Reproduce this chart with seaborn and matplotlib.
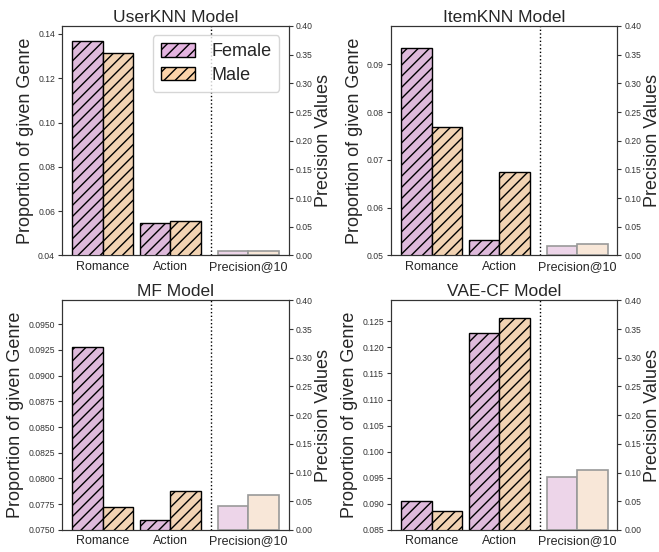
import matplotlib
matplotlib.use("Agg")
import matplotlib.pyplot as plt
import pandas as pd
import seaborn as sns
from matplotlib.patches import Patch
from matplotlib.ticker import MultipleLocator, FormatStrFormatter

# ---- data ----
models = ["UserKNN", "ItemKNN", "MF", "VAE-CF"]
genres = ["Romance", "Action"]
genders = ["Female", "Male"]

female_genre = {
    "UserKNN": [0.1370, 0.0548],
    "ItemKNN": [0.0934, 0.0532],
    "MF": [0.0928, 0.0760],
    "VAE-CF": [0.0905, 0.1228],
}
male_genre = {
    "UserKNN": [0.1316, 0.0557],
    "ItemKNN": [0.0769, 0.0675],
    "MF": [0.0772, 0.0788],
    "VAE-CF": [0.0887, 0.1256],
}
female_prec = {"UserKNN": 0.008, "ItemKNN": 0.016, "MF": 0.042, "VAE-CF": 0.092}
male_prec = {"UserKNN": 0.008, "ItemKNN": 0.020, "MF": 0.060, "VAE-CF": 0.104}

# left-axis limits, tick step and label format per model
ylims = {
    "UserKNN": (0.04, 0.1436),
    "ItemKNN": (0.05, 0.0980),
    "MF": (0.075, 0.0973),
    "VAE-CF": (0.085, 0.1290),
}
ysteps = {"UserKNN": 0.02, "ItemKNN": 0.01, "MF": 0.0025, "VAE-CF": 0.005}
yfmts = {"UserKNN": "%.2f", "ItemKNN": "%.2f", "MF": "%.4f", "VAE-CF": "%.3f"}

# ---- layout ----
genre_pos = [0, 1]
prec_pos = 2.15
sep_x = 1.6
xlim = (-0.6, 2.74)

col_genre = {"Female": "#e4b4e0", "Male": "#fcd3a9"}
col_prec = {"Female": "#f1d1ec", "Male": "#fee6d2"}

sns.set_style("ticks")
plt.rcParams["font.family"] = ["Liberation Sans", "DejaVu Sans"]

fig, axes = plt.subplots(2, 2, figsize=(6.59, 5.52), dpi=100)
fig.subplots_adjust(left=0.094, right=0.937, top=0.953, bottom=0.04,
                    wspace=0.452, hspace=0.196)

for ax, model in zip(axes.flat, models):
    # genre bars (left axis)
    rows = []
    for i, g in enumerate(genres):
        rows.append({"pos": genre_pos[i], "Gender": "Female", "value": female_genre[model][i]})
        rows.append({"pos": genre_pos[i], "Gender": "Male", "value": male_genre[model][i]})
    df_g = pd.DataFrame(rows)
    sns.barplot(data=df_g, x="pos", y="value", hue="Gender", hue_order=genders,
                palette=col_genre, native_scale=True, width=0.9, ax=ax,
                edgecolor="black", linewidth=1, hatch="///", legend=False,
                errorbar=None)

    # precision bars (right axis)
    ax2 = ax.twinx()
    df_p = pd.DataFrame({"pos": [prec_pos, prec_pos], "Gender": genders,
                         "value": [female_prec[model], male_prec[model]]})
    sns.barplot(data=df_p, x="pos", y="value", hue="Gender", hue_order=genders,
                palette=col_prec, native_scale=True, width=0.9, ax=ax2,
                edgecolor="#999999", linewidth=1.2, legend=False, errorbar=None)

    ax.axvline(sep_x, color="black", linestyle=":", linewidth=1)

    ax.set_ylim(*ylims[model])
    ax.yaxis.set_major_locator(MultipleLocator(ysteps[model]))
    ax.yaxis.set_major_formatter(FormatStrFormatter(yfmts[model]))
    ax2.set_ylim(0, 0.4)
    ax2.yaxis.set_major_locator(MultipleLocator(0.05))
    ax2.yaxis.set_major_formatter(FormatStrFormatter("%.2f"))
    ax.set_xlim(*xlim)
    ax.set_xticks(genre_pos + [prec_pos])
    ax.set_xticklabels(genres + ["Precision@10"], fontsize=9)
    ax.tick_params(axis="x", length=0, pad=4)
    ax.tick_params(axis="y", labelsize=6.2, length=3, pad=2, colors="#333333")
    ax2.tick_params(axis="y", labelsize=6.2, length=3, pad=2, colors="#333333")
    ax.set_xlabel("")
    ax.set_ylabel("Proportion of given Genre", fontsize=13, labelpad=3)
    ax2.set_ylabel("Precision Values", fontsize=13, labelpad=1.5)
    ax.set_title(f"{model} Model", fontsize=12.5, pad=3)
    for sp in list(ax.spines.values()) + list(ax2.spines.values()):
        sp.set_color("#333333")

# legend on the first panel
handles = [Patch(facecolor=col_genre[g], edgecolor="black", hatch="///", label=g)
           for g in genders]
axes[0, 0].legend(handles=handles, loc="upper right", fontsize=13,
                  handlelength=1.9, handleheight=0.8, framealpha=0.8,
                  borderpad=0.45, labelspacing=0.35, handletextpad=0.9)
axes[0, 0].set_zorder(3)
axes[0, 0].patch.set_visible(False)

fig.savefig("out.png", dpi=100)
